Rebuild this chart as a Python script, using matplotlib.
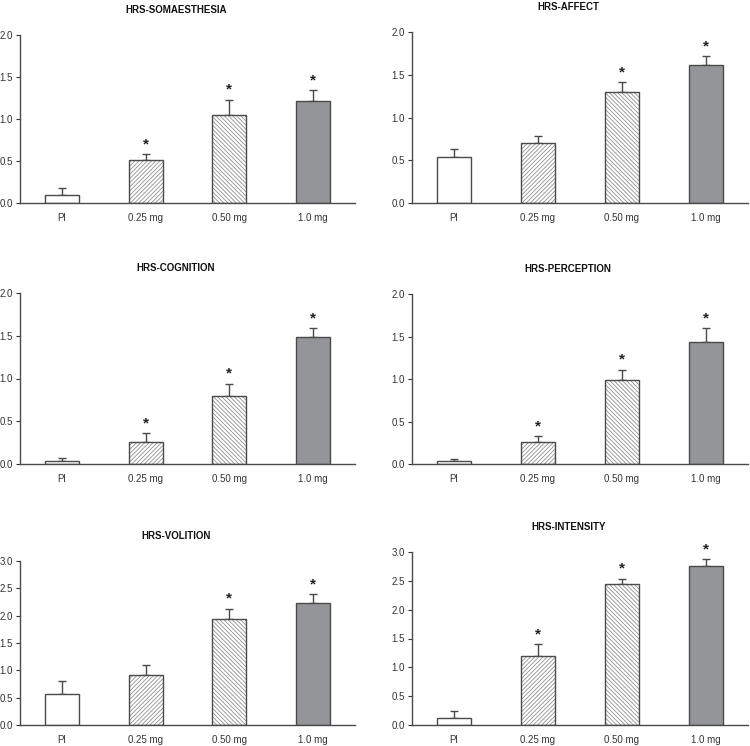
import matplotlib
matplotlib.use("Agg")
import matplotlib.pyplot as plt
import numpy as np

plt.rcParams['font.family'] = ['Liberation Sans', 'DejaVu Sans']
plt.rcParams['hatch.linewidth'] = 0.6

categories = ["Pl", "0.25 mg", "0.50 mg", "1.0 mg"]

titles = ["HRS-SOMAESTHESIA", "HRS-AFFECT", "HRS-COGNITION",
          "HRS-PERCEPTION", "HRS-VOLITION", "HRS-INTENSITY"]

somaesthesia = [0.10, 0.51, 1.05, 1.22]
somaesthesia_err = [0.08, 0.07, 0.18, 0.12]
affect = [0.54, 0.70, 1.30, 1.61]
affect_err = [0.09, 0.08, 0.11, 0.11]
cognition = [0.04, 0.26, 0.80, 1.49]
cognition_err = [0.03, 0.10, 0.14, 0.10]
perception = [0.03, 0.26, 0.99, 1.43]
perception_err = [0.025, 0.07, 0.12, 0.17]
volition = [0.57, 0.91, 1.93, 2.23]
volition_err = [0.23, 0.19, 0.20, 0.16]
intensity = [0.13, 1.19, 2.44, 2.75]
intensity_err = [0.12, 0.21, 0.10, 0.12]

stars_somaesthesia = [False, True, True, True]
stars_affect = [False, False, True, True]
stars_cognition = [False, True, True, True]
stars_perception = [False, True, True, True]
stars_volition = [False, False, True, True]
stars_intensity = [False, True, True, True]

panels = [
    (somaesthesia, somaesthesia_err, stars_somaesthesia, 2.0),
    (affect, affect_err, stars_affect, 2.0),
    (cognition, cognition_err, stars_cognition, 2.0),
    (perception, perception_err, stars_perception, 2.0),
    (volition, volition_err, stars_volition, 3.0),
    (intensity, intensity_err, stars_intensity, 3.0),
]

W, H = 750, 746
fig = plt.figure(figsize=(W / 100, H / 100), dpi=100)

# axes boxes in pixels: (left, top, right, bottom)
boxes = [
    (20, 35, 355, 203), (412, 32, 748, 203),
    (20, 293, 355, 464), (412, 294, 748, 464),
    (20, 561, 355, 725), (412, 552, 748, 725),
]

fills = ["white", "white", "white", "#939598"]
hatches = [None, "////////", "\\\\\\\\\\\\\\\\", None]
edge = "#4a4a4a"
hatch_col = "#909090"

x = np.arange(len(categories))
bw = 0.405

for i, (box, title, (vals, errs, stars, ymax)) in enumerate(zip(boxes, titles, panels)):
    l, t, r, b = box
    ax = fig.add_axes([l / W, (H - b) / H, (r - l) / W, (b - t) / H])
    # hatch layer
    for j in range(len(categories)):
        if hatches[j]:
            ax.bar(x[j], vals[j], width=bw, color=fills[j], hatch=hatches[j],
                   edgecolor=hatch_col, linewidth=0, zorder=2)
        else:
            ax.bar(x[j], vals[j], width=bw, color=fills[j], linewidth=0, zorder=2)
    # outline layer
    ax.bar(x, vals, width=bw, fill=False, edgecolor=edge, linewidth=1.0, zorder=3)
    ax.errorbar(x, vals, yerr=[np.zeros(len(vals)), errs], fmt='none',
                ecolor=edge, elinewidth=1.0, capsize=3, capthick=1.0, zorder=1)
    for j in range(len(categories)):
        if stars[j]:
            ax.annotate("*", (x[j], vals[j] + errs[j]), xytext=(0, 2),
                        textcoords="offset points", ha="center", va="bottom",
                        fontsize=11, fontweight="bold", color="#222222")
    ax.set_xlim(-0.5, 3.5)
    ax.set_ylim(0, ymax)
    ax.set_yticks(np.arange(0, ymax + 0.01, 0.5))
    ax.set_yticklabels([f"{v:.1f}" for v in np.arange(0, ymax + 0.01, 0.5)])
    ax.set_xticks(x)
    ax.set_xticklabels(categories)
    ax.tick_params(axis='x', length=0, pad=7, labelsize=7, colors="#333333")
    ax.tick_params(axis='y', length=3, width=0.8, pad=2, labelsize=7,
                   colors="#333333", direction='out')
    ax.spines['top'].set_visible(False)
    ax.spines['right'].set_visible(False)
    for s in ('left', 'bottom'):
        ax.spines[s].set_color(edge)
        ax.spines[s].set_linewidth(1.0)
    ax.set_title(title, fontsize=7, fontweight="bold", x=0.465, pad=16,
                 color="#111111")

fig.savefig("out.png", dpi=100)
